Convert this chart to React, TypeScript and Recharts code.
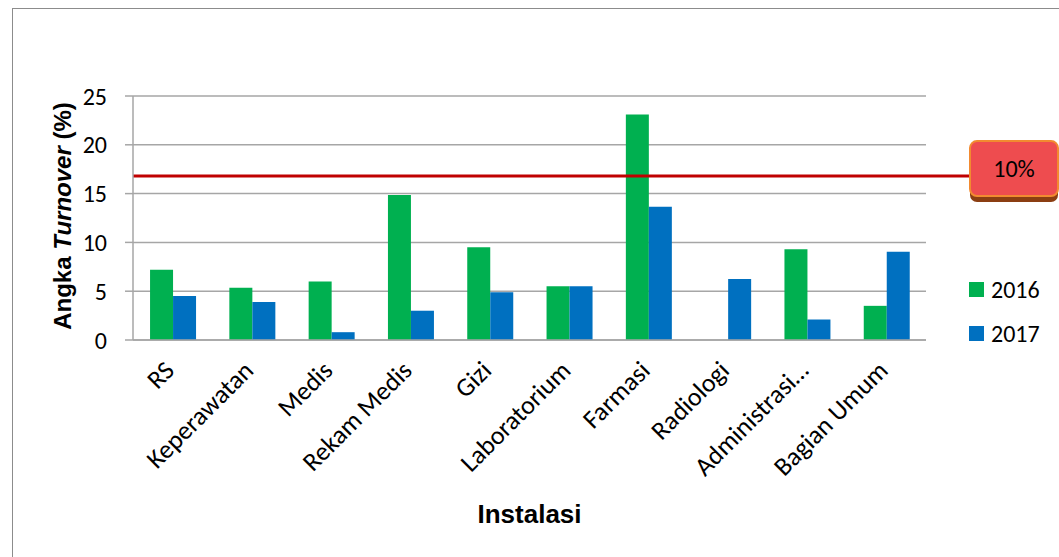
import React from 'react';
import {
  BarChart,
  Bar,
  XAxis,
  YAxis,
  CartesianGrid,
  Legend,
  ReferenceLine,
} from 'recharts';

const categories = [
  'RS',
  'Keperawatan',
  'Medis',
  'Rekam Medis',
  'Gizi',
  'Laboratorium',
  'Farmasi',
  'Radiologi',
  'Administrasi…',
  'Bagian Umum',
];
const values2016 = [7.2, 5.35, 6.0, 14.85, 9.5, 5.5, 23.1, 0, 9.3, 3.5];
const values2017 = [4.5, 3.9, 0.8, 3.0, 4.9, 5.5, 13.65, 6.25, 2.1, 9.05];
const yTicks = [0, 5, 10, 15, 20, 25];
const boundaryTicks = [0, 1, 2, 3, 4, 5, 6, 7, 8, 9, 10];
const targetValue = 16.8;
const targetLabel = '10%';

const GREEN = '#00B050';
const BLUE = '#0070C0';
const GRID = '#A6A6A6';
const FONT = 'Calibri, Carlito, Lato, sans-serif';
const BOLD_FONT = '"Liberation Sans", Arial, sans-serif';

const data = categories.map((name, i) => ({
  name,
  y2016: values2016[i],
  y2017: values2017[i],
}));

function CategoryTick(props: any) {
  const { x, y, payload } = props;
  return (
    <g transform={`translate(${x + 3},${y + 24})`}>
      <text
        x={0}
        y={0}
        textAnchor="end"
        transform="rotate(-45)"
        fontFamily={FONT}
        fontSize={26}
        fill="#000"
      >
        {payload.value}
      </text>
    </g>
  );
}

function EmptyTick() {
  return <g />;
}

function YTitle(props: any) {
  const { viewBox } = props;
  const cx = 62;
  const cy = viewBox.y + viewBox.height / 2 - 2;
  return (
    <text
      transform={`translate(${cx + 9},${cy}) rotate(-90)`}
      textAnchor="middle"
      fontFamily={BOLD_FONT}
      fontWeight="bold"
      fontSize={24}
      fill="#000"
    >
      <tspan>Angka </tspan>
      <tspan fontStyle="italic">Turnover</tspan>
      <tspan> (%)</tspan>
    </text>
  );
}

function TargetBox(props: any) {
  const { viewBox } = props;
  const right = viewBox.x + viewBox.width;
  const y = viewBox.y;
  const bx = right + 44;
  const by = y - 35;
  return (
    <g>
      <line x1={right} y1={y} x2={bx + 2} y2={y} stroke="#C00000" strokeWidth={3} />
      <rect x={bx} y={by + 6} width={88} height={55} rx={7} fill="#8B3E12" />
      <rect
        x={bx}
        y={by}
        width={88}
        height={55}
        rx={7}
        fill="#EE4C4F"
        stroke="#F28A30"
        strokeWidth={2}
      />
      <text
        x={bx + 44}
        y={by + 36}
        textAnchor="middle"
        fontFamily={FONT}
        fontSize={24}
        fill="#000"
      >
        {targetLabel}
      </text>
    </g>
  );
}

function LegendContent(props: any) {
  const { payload } = props;
  return (
    <div>
      {(payload || []).map((p: any) => (
        <div
          key={p.value}
          style={{ display: 'flex', alignItems: 'center', height: 44 }}
        >
          <span
            style={{
              display: 'inline-block',
              width: 15,
              height: 15,
              background: p.color,
              marginRight: 7,
            }}
          />
          <span style={{ fontFamily: FONT, fontSize: 24, color: '#000' }}>
            {p.value}
          </span>
        </div>
      ))}
    </div>
  );
}

export default function App() {
  return (
    <div
      style={{
        position: 'absolute',
        left: 0,
        top: 0,
        width: 1059,
        height: 557,
        background: '#fff',
        overflow: 'hidden',
      }}
    >
      <div
        style={{
          position: 'absolute',
          left: 12,
          top: 8,
          width: 1100,
          height: 600,
          border: '1px solid #8C8C8C',
        }}
      />
      <div style={{ position: 'absolute', left: 0, top: 0 }}>
        <BarChart
          width={1059}
          height={557}
          data={data}
          margin={{ top: 96, right: 133, left: 83, bottom: 32 }}
          barCategoryGap="21.5%"
          barGap={0}
        >
          <CartesianGrid vertical={false} stroke={GRID} strokeWidth={1.5} />
          <XAxis
            xAxisId="bounds"
            type="number"
            domain={[0, 10]}
            ticks={boundaryTicks}
            allowDataOverflow
            height={0}
            axisLine={false}
            tickLine={{ stroke: GRID, strokeWidth: 1.5 }}
            tickSize={8}
            tick={EmptyTick}
          />
          <XAxis
            xAxisId="cat"
            dataKey="name"
            interval={0}
            height={185}
            axisLine={{ stroke: GRID, strokeWidth: 1.5 }}
            tickLine={false}
            tick={CategoryTick}
            label={{
              value: 'Instalasi',
              position: 'insideBottom',
              offset: 2,
              fontFamily: BOLD_FONT,
              fontWeight: 'bold',
              fontSize: 26,
              fill: '#000',
            }}
          />
          <YAxis
            width={50}
            domain={[0, 25]}
            ticks={yTicks}
            interval={0}
            axisLine={{ stroke: GRID, strokeWidth: 1.5 }}
            tickLine={{ stroke: GRID, strokeWidth: 1.5 }}
            tickSize={8}
            tickMargin={18}
            tick={{ fontFamily: FONT, fontSize: 24, fill: '#000' }}
            label={<YTitle />}
          />
          <ReferenceLine
            xAxisId="cat"
            y={targetValue}
            stroke="#C00000"
            strokeWidth={3}
            label={<TargetBox />}
          />
          <Bar xAxisId="cat" dataKey="y2016" name="2016" fill={GREEN} isAnimationActive={false} />
          <Bar xAxisId="cat" dataKey="y2017" name="2017" fill={BLUE} isAnimationActive={false} />
          <Legend
            layout="vertical"
            align="center"
            verticalAlign="middle"
            content={<LegendContent />}
            wrapperStyle={{ position: 'absolute', left: 969, top: 267, width: 90 }}
          />
        </BarChart>
      </div>
    </div>
  );
}
